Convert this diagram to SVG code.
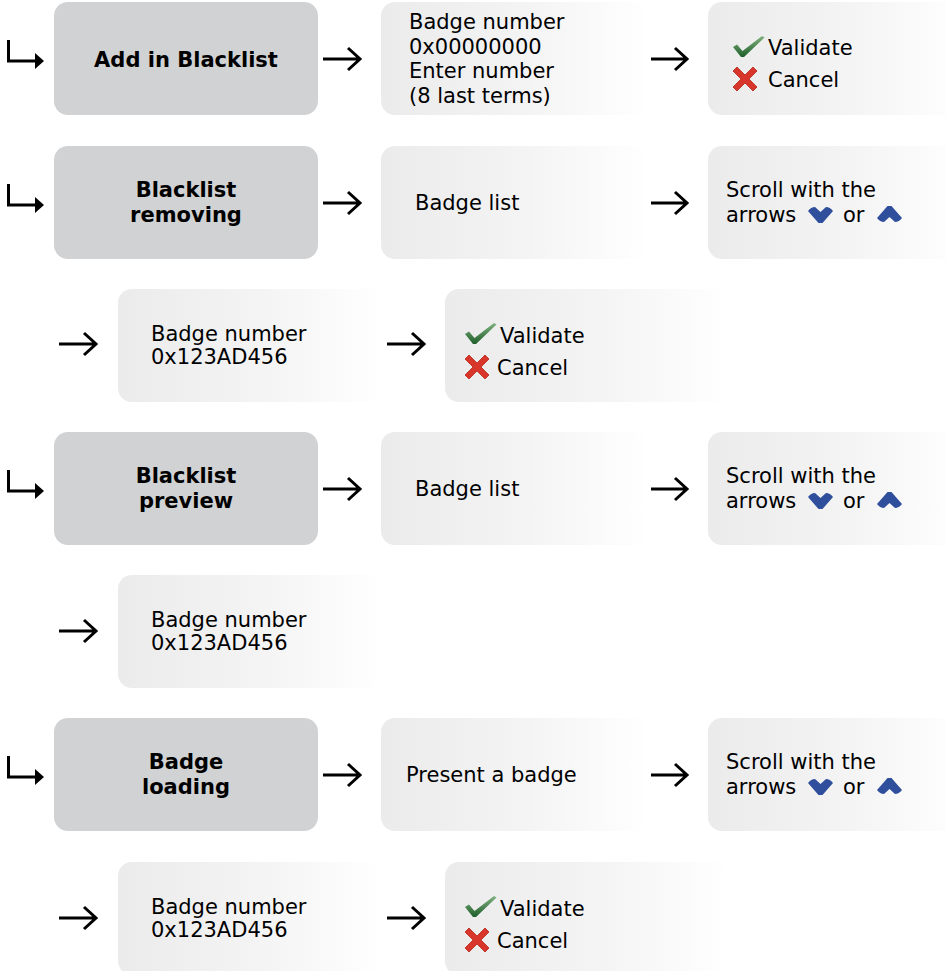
<svg xmlns="http://www.w3.org/2000/svg" xmlns:xlink="http://www.w3.org/1999/xlink" width="946" height="971" viewBox="0 0 946 971">
<style>
  .t{font-family:"DejaVu Sans","Liberation Sans",sans-serif;font-size:21px;fill:#000;}
  .b{font-family:"DejaVu Sans","Liberation Sans",sans-serif;font-size:21px;font-weight:bold;fill:#000;text-anchor:middle;}
  .gray{fill:#d1d2d4;}
  .soft{fill:url(#fade);}
  .ar{fill:none;stroke:#000;stroke-width:3;}
</style>
<defs>
  <linearGradient id="fade" x1="0" y1="0" x2="1" y2="0">
    <stop offset="0" stop-color="#ebebec"/>
    <stop offset="0.55" stop-color="#f4f4f5"/>
    <stop offset="1" stop-color="#ffffff"/>
  </linearGradient>
  <linearGradient id="gchk" x1="0" y1="0" x2="0" y2="1">
    <stop offset="0" stop-color="#7fb27f"/>
    <stop offset="1" stop-color="#1f5e2a"/>
  </linearGradient>
  <g id="arrow"><path class="ar" d="M0,0 H36 M25,-11 L37,0 L25,11"/></g>
  <g id="elbow"><path class="ar" d="M1.5,0 V21 H30"/><path d="M28,13 L37,21 L28,29 Z" fill="#000"/></g>
  <g id="check"><path d="M0,11 L4,8.5 L9.5,15 L29,0 L31.5,1.5 L11,21 L8,21 Z" fill="url(#gchk)"/></g>
  <g id="cross"><path d="M0,4 L4,0 L12,8 L20,0 L24,4 L16,12 L24,20 L20,24 L12,16 L4,24 L0,20 L8,12 Z" fill="#d8362a" stroke="#b82418" stroke-width="0.8"/></g>
  <g id="down"><path d="M0,4 Q3,0 7,0 L12.5,5 L18,0 Q22,0 25,4 L14.5,16 L10.5,16 Z" fill="#2f4f9d"/></g>
  <g id="up"><path d="M0,12 L10.5,0 L14.5,0 L25,12 Q22,16 18,16 L12.5,11 L7,16 Q3,16 0,12 Z" fill="#2f4f9d"/></g>
</defs>

<g id="connectors">
  <use xlink:href="#elbow" x="7" y="40"/>
  <use xlink:href="#arrow" x="323" y="59"/>
  <use xlink:href="#arrow" x="650" y="59"/>
  <use xlink:href="#elbow" x="7" y="184"/>
  <use xlink:href="#arrow" x="323" y="203"/>
  <use xlink:href="#arrow" x="650" y="203"/>
  <use xlink:href="#arrow" x="59" y="344"/>
  <use xlink:href="#arrow" x="387" y="344"/>
  <use xlink:href="#elbow" x="7" y="470"/>
  <use xlink:href="#arrow" x="323" y="489"/>
  <use xlink:href="#arrow" x="650" y="489"/>
  <use xlink:href="#arrow" x="59" y="631"/>
  <use xlink:href="#elbow" x="7" y="756"/>
  <use xlink:href="#arrow" x="323" y="775"/>
  <use xlink:href="#arrow" x="650" y="775"/>
  <use xlink:href="#arrow" x="59" y="918"/>
  <use xlink:href="#arrow" x="387" y="918"/>
</g>

<!-- Row 1 -->
<g id="add-blacklist">
  <rect class="gray" x="54" y="2" width="264" height="113" rx="14"/>
  <text class="b" x="186" y="67">Add in Blacklist</text>
</g>
<g id="badge-number-entry">
  <rect class="soft" x="381" y="2" width="270" height="113" rx="14"/>
  <text class="t" x="409" y="29">Badge number</text>
  <text class="t" x="409" y="53.5">0x00000000</text>
  <text class="t" x="409" y="78">Enter number</text>
  <text class="t" x="409" y="102.5">(8 last terms)</text>
</g>
<g id="validate-1">
  <rect class="soft" x="708" y="2" width="260" height="113" rx="14"/>
  <use xlink:href="#check" x="733" y="36"/>
  <text class="t" x="768" y="55">Validate</text>
  <use xlink:href="#cross" x="733" y="67"/>
  <text class="t" x="768" y="87">Cancel</text>
</g>

<!-- Row 2 -->
<g id="blacklist-removing">
  <rect class="gray" x="54" y="146" width="264" height="113" rx="14"/>
  <text class="b" x="186" y="197">Blacklist</text>
  <text class="b" x="186" y="222">removing</text>
</g>
<g id="badge-list-1">
  <rect class="soft" x="381" y="146" width="270" height="113" rx="14"/>
  <text class="t" x="415" y="210">Badge list</text>
</g>
<g id="scroll-1">
  <rect class="soft" x="708" y="146" width="260" height="113" rx="14"/>
  <text class="t" x="726" y="197">Scroll with the</text>
  <text class="t" x="726" y="222">arrows</text>
  <use xlink:href="#down" x="808" y="207"/>
  <text class="t" x="843" y="222">or</text>
  <use xlink:href="#up" x="877" y="206"/>
</g>

<!-- Row 2b -->
<g id="badge-number-1">
  <rect class="soft" x="118" y="289" width="265" height="113" rx="14"/>
  <text class="t" x="151" y="341">Badge number</text>
  <text class="t" x="151" y="364">0x123AD456</text>
</g>
<g id="validate-2">
  <rect class="soft" x="445" y="289" width="285" height="113" rx="14"/>
  <use xlink:href="#check" x="465" y="323"/>
  <text class="t" x="500" y="343">Validate</text>
  <use xlink:href="#cross" x="465" y="355"/>
  <text class="t" x="497" y="375">Cancel</text>
</g>

<!-- Row 3 -->
<g id="blacklist-preview">
  <rect class="gray" x="54" y="432" width="264" height="113" rx="14"/>
  <text class="b" x="186" y="483">Blacklist</text>
  <text class="b" x="186" y="508">preview</text>
</g>
<g id="badge-list-2">
  <rect class="soft" x="381" y="432" width="270" height="113" rx="14"/>
  <text class="t" x="415" y="496">Badge list</text>
</g>
<g id="scroll-2">
  <rect class="soft" x="708" y="432" width="260" height="113" rx="14"/>
  <text class="t" x="726" y="483">Scroll with the</text>
  <text class="t" x="726" y="508">arrows</text>
  <use xlink:href="#down" x="808" y="493"/>
  <text class="t" x="843" y="508">or</text>
  <use xlink:href="#up" x="877" y="492"/>
</g>

<!-- Row 3b -->
<g id="badge-number-2">
  <rect class="soft" x="118" y="575" width="265" height="113" rx="14"/>
  <text class="t" x="151" y="627">Badge number</text>
  <text class="t" x="151" y="650">0x123AD456</text>
</g>

<!-- Row 4 -->
<g id="badge-loading">
  <rect class="gray" x="54" y="718" width="264" height="113" rx="14"/>
  <text class="b" x="186" y="769">Badge</text>
  <text class="b" x="186" y="794">loading</text>
</g>
<g id="present-badge">
  <rect class="soft" x="381" y="718" width="270" height="113" rx="14"/>
  <text class="t" x="406" y="782">Present a badge</text>
</g>
<g id="scroll-3">
  <rect class="soft" x="708" y="718" width="260" height="113" rx="14"/>
  <text class="t" x="726" y="769">Scroll with the</text>
  <text class="t" x="726" y="794">arrows</text>
  <use xlink:href="#down" x="808" y="779"/>
  <text class="t" x="843" y="794">or</text>
  <use xlink:href="#up" x="877" y="778"/>
</g>

<!-- Row 4b -->
<g id="badge-number-3">
  <rect class="soft" x="118" y="862" width="265" height="113" rx="14"/>
  <text class="t" x="151" y="914">Badge number</text>
  <text class="t" x="151" y="937">0x123AD456</text>
</g>
<g id="validate-3">
  <rect class="soft" x="445" y="862" width="285" height="113" rx="14"/>
  <use xlink:href="#check" x="465" y="896"/>
  <text class="t" x="500" y="916">Validate</text>
  <use xlink:href="#cross" x="465" y="928"/>
  <text class="t" x="497" y="948">Cancel</text>
</g>
</svg>
